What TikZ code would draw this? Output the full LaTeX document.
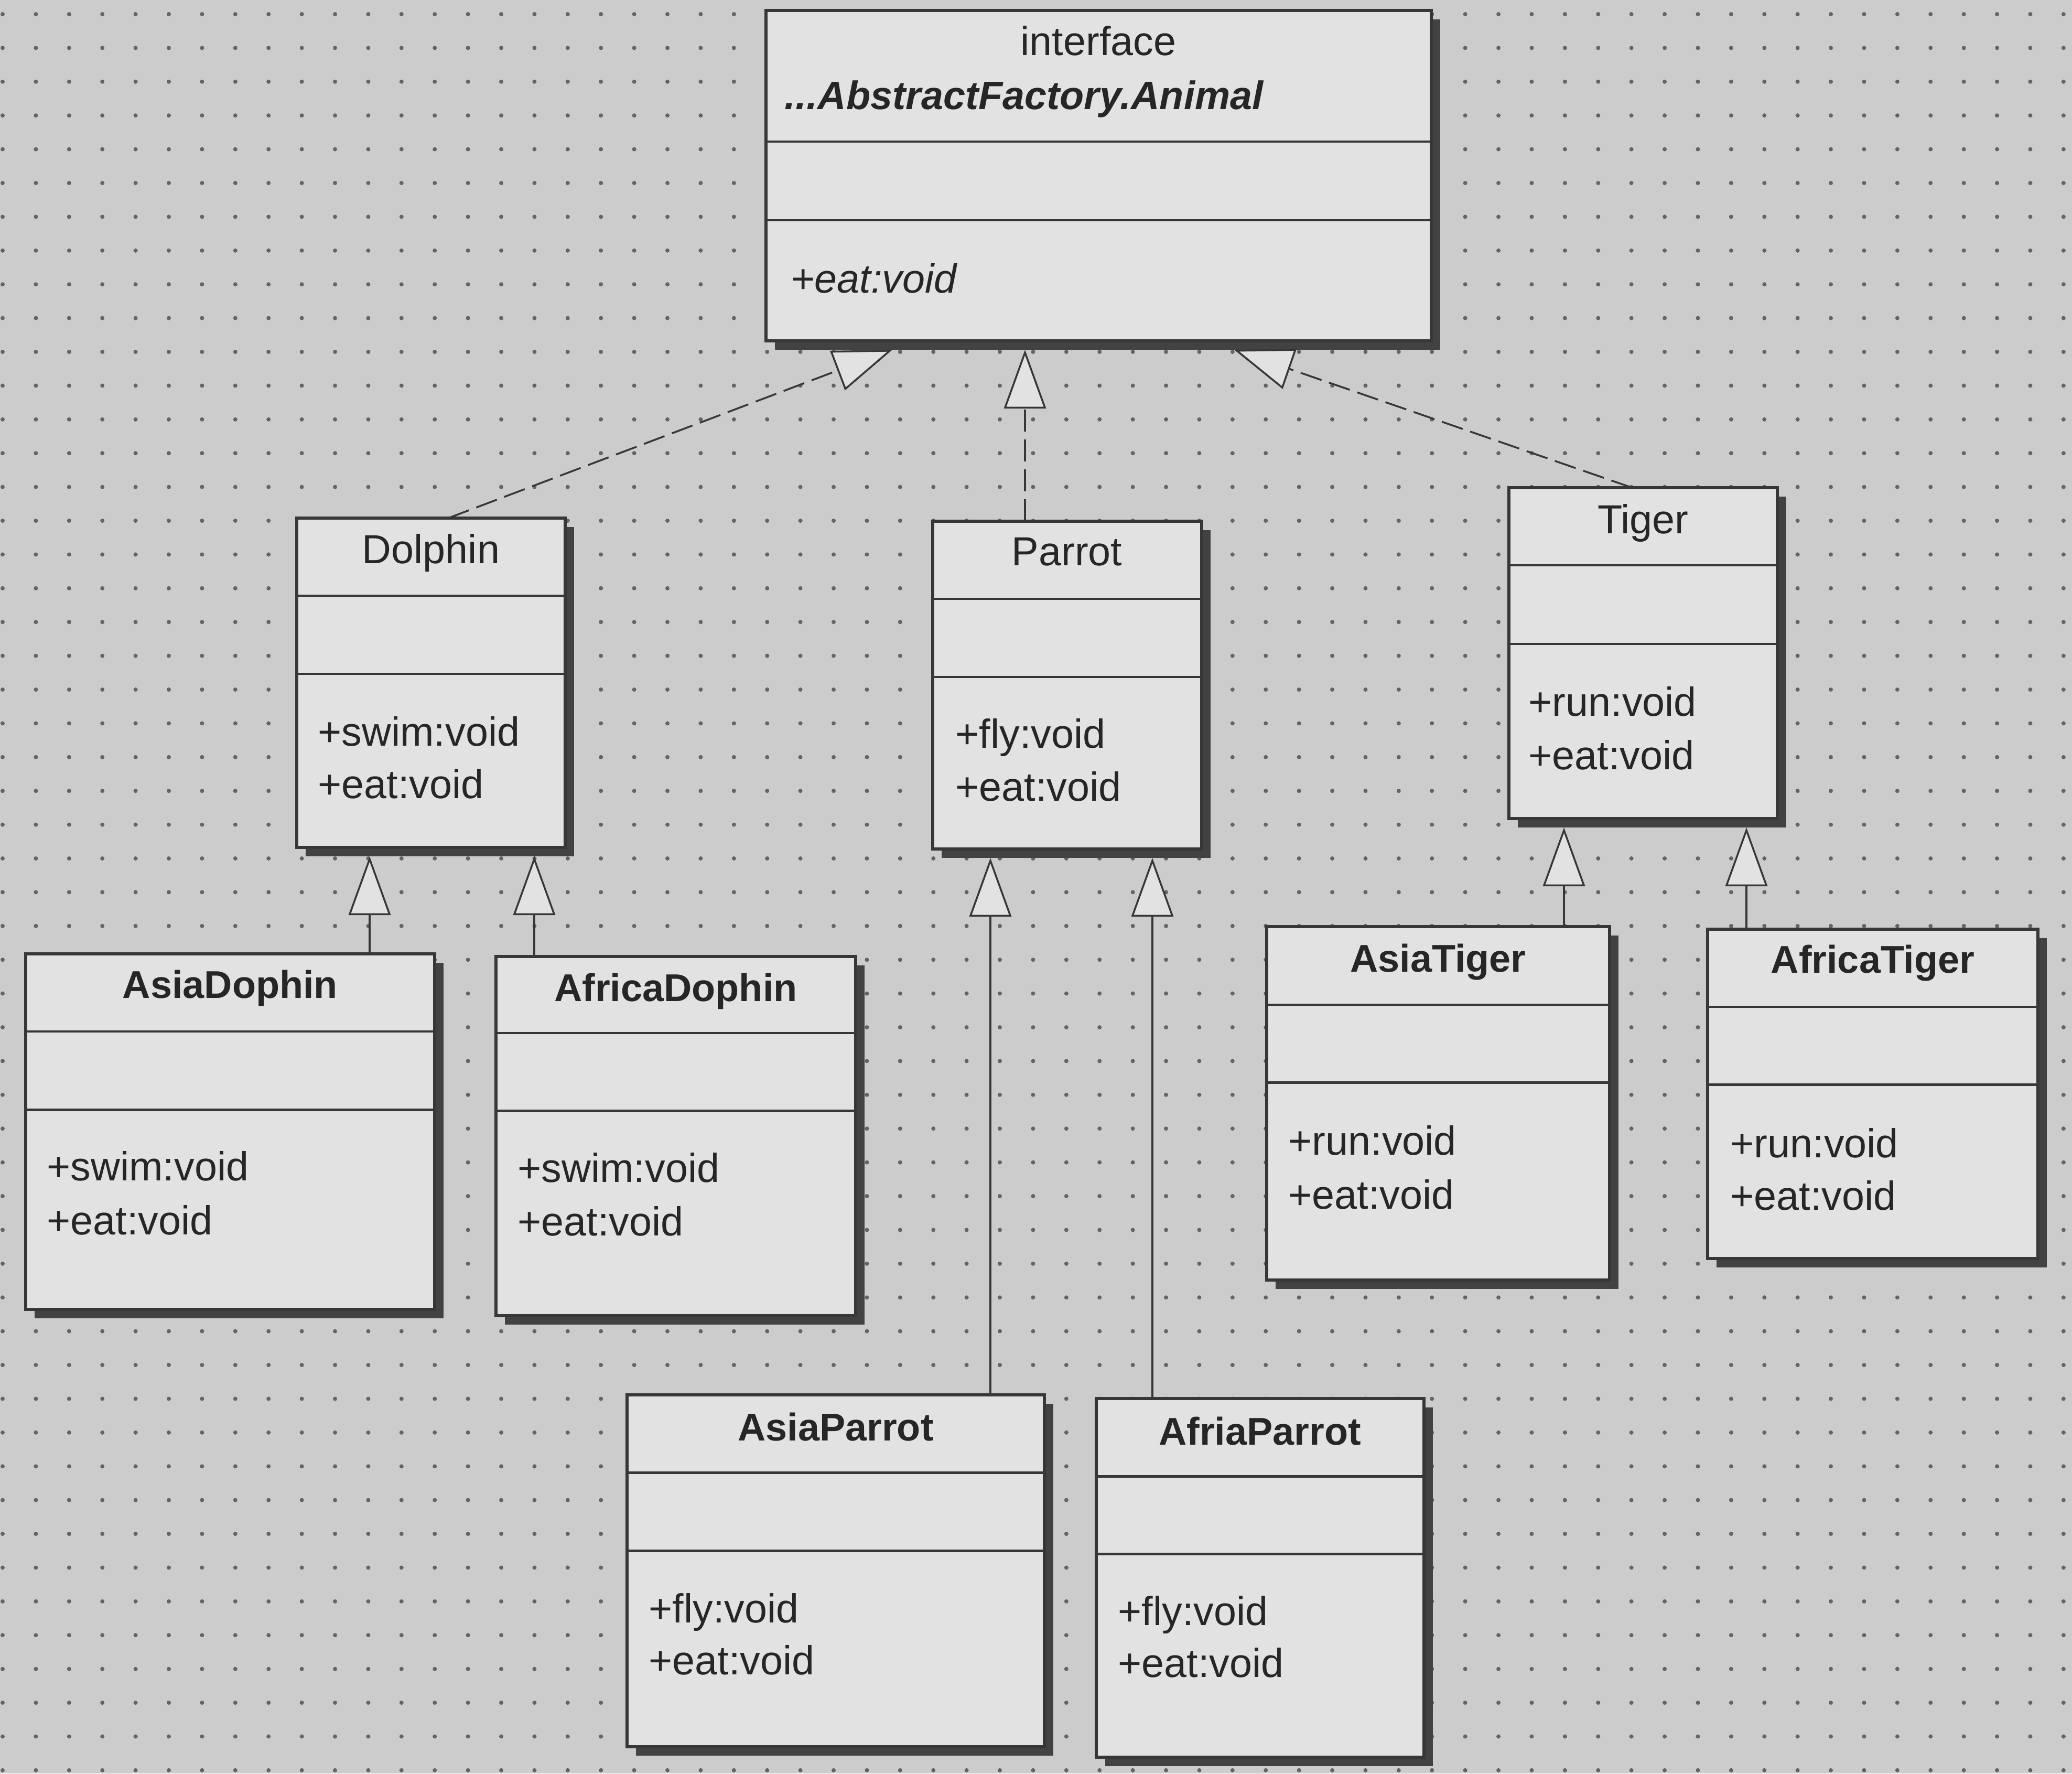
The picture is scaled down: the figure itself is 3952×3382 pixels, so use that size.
\documentclass[tikz,border=0pt]{standalone}
\usepackage{fontspec}
\setmainfont{Liberation Sans}
\usetikzlibrary{arrows.meta,fit}
\definecolor{bgc}{RGB}{204,204,204}
\definecolor{boxc}{RGB}{226,226,226}
\definecolor{linec}{RGB}{55,55,55}
\definecolor{shadowc}{RGB}{66,66,66}
\definecolor{dotc}{RGB}{100,100,100}
\definecolor{textc}{RGB}{38,38,38}
\tikzset{
  classbox/.style={draw=linec, line width=1.9pt, fill=boxc, inner sep=0pt, outer sep=0pt},
  shadowbox/.style={fill=shadowc, draw=none, inner sep=0pt, outer sep=0pt},
  divider/.style={draw=linec, line width=1.4pt},
  cname/.style={anchor=base, inner sep=0pt, text=textc, font=\fontsize{22pt}{26pt}\selectfont},
  cnamebold/.style={anchor=base, inner sep=0pt, text=textc, font=\fontsize{21pt}{26pt}\selectfont\bfseries},
  member/.style={anchor=base west, inner sep=0pt, text=textc, font=\fontsize{22pt}{26pt}\selectfont},
  realize/.style={draw=linec, line width=1pt, dash pattern=on 4.2mm off 1.5mm,
    -{Triangle[length=11.2mm, width=8mm, fill=boxc]}},
  inherit/.style={draw=linec, line width=1pt,
    -{Triangle[length=11.2mm, width=8mm, fill=boxc]}}
}
\newcommand\umlbox[7]{%
  \node[shadowbox, fit={(#2+17,#3+17) (#4+17,#5+17)}] (#1-sh) {};
  \node[classbox, fit={(#2,#3) (#4,#5)}] (#1) {};
  \draw[divider] (#2,#6) -- (#4,#6);
  \draw[divider] (#2,#7) -- (#4,#7);
}
\begin{document}
\begin{tikzpicture}[x=0.1mm, y=-0.1mm]
\useasboundingbox (0,0) rectangle (3952,3382);
\fill[bgc] (0,0) rectangle (3952,3382);
\foreach \i in {0,...,62}{\foreach \j in {0,...,52}{\fill[dotc] ({5+\i*63.4},{27+\j*64.4}) circle[radius=4];}}

% boxes
\umlbox{animal}{1461}{20}{2730}{650}{270}{420}
\umlbox{dolphin}{566}{988}{1078}{1616}{1136}{1285}
\umlbox{parrot}{1779}{994}{2292}{1619}{1142}{1291}
\umlbox{tiger}{2878}{930}{3390}{1561}{1078}{1228}
\umlbox{asiadophin}{49}{1819}{829}{2497}{1967}{2116}
\umlbox{africadophin}{946}{1824}{1632}{2509}{1970}{2118}
\umlbox{asiatiger}{2416}{1767}{3070}{2441}{1916}{2064}
\umlbox{africatiger}{3257}{1772}{3887}{2400}{1920}{2068}
\umlbox{asiaparrot}{1196}{2660}{1992}{3331}{2808}{2957}
\umlbox{afriaparrot}{2091}{2667}{2716}{3351}{2815}{2963}

% texts
\node[cname] (animal-st) at (2095,105) {interface};
\node[member, font=\fontsize{21.5pt}{26pt}\selectfont\bfseries\itshape] (animal-n) at (1496,208) {...AbstractFactory.Animal};
\node[member, font=\fontsize{22pt}{26pt}\selectfont\itshape] (animal-m1) at (1508,558) {+eat:void};

\node[cname] (dolphin-n) at (822,1074) {Dolphin};
\node[member] (dolphin-m1) at (606,1422) {+swim:void};
\node[member] (dolphin-m2) at (606,1522) {+eat:void};

\node[cname] (parrot-n) at (2035,1078) {Parrot};
\node[member] (parrot-m1) at (1822,1426) {+fly:void};
\node[member] (parrot-m2) at (1822,1527) {+eat:void};

\node[cname] (tiger-n) at (3134,1017) {Tiger};
\node[member] (tiger-m1) at (2915,1365) {+run:void};
\node[member] (tiger-m2) at (2915,1467) {+eat:void};

\node[cnamebold] (asiadophin-n) at (439,1903) {AsiaDophin};
\node[member] (asiadophin-m1) at (89,2251) {+swim:void};
\node[member] (asiadophin-m2) at (89,2354) {+eat:void};

\node[cnamebold] (africadophin-n) at (1289,1909) {AfricaDophin};
\node[member] (africadophin-m1) at (987,2254) {+swim:void};
\node[member] (africadophin-m2) at (987,2356) {+eat:void};

\node[cnamebold] (asiatiger-n) at (2743,1853) {AsiaTiger};
\node[member] (asiatiger-m1) at (2457,2202) {+run:void};
\node[member] (asiatiger-m2) at (2457,2305) {+eat:void};

\node[cnamebold] (africatiger-n) at (3572,1855) {AfricaTiger};
\node[member] (africatiger-m1) at (3300,2207) {+run:void};
\node[member] (africatiger-m2) at (3300,2307) {+eat:void};

\node[cnamebold] (asiaparrot-n) at (1594,2747) {AsiaParrot};
\node[member] (asiaparrot-m1) at (1237,3094) {+fly:void};
\node[member] (asiaparrot-m2) at (1237,3193) {+eat:void};

\node[cnamebold] (afriaparrot-n) at (2403,2755) {AfriaParrot};
\node[member] (afriaparrot-m1) at (2132,3099) {+fly:void};
\node[member] (afriaparrot-m2) at (2132,3198) {+eat:void};

% connectors
\draw[realize] (dolphin.north -| 855,0) -- (animal-sh.south -| 1702,0);
\draw[realize] (parrot.north -| 1955,0) -- (animal-sh.south -| 1955,0);
\draw[realize] (tiger.north -| 3113,0) -- (animal-sh.south -| 2354,0);

\draw[inherit] (asiadophin.north -| 705,0) -- (dolphin-sh.south -| 705,0);
\draw[inherit] (africadophin.north -| 1019,0) -- (dolphin-sh.south -| 1019,0);
\draw[inherit] (asiaparrot.north -| 1889,0) -- (parrot-sh.south -| 1889,0);
\draw[inherit] (afriaparrot.north -| 2198,0) -- (parrot-sh.south -| 2198,0);
\draw[inherit] (asiatiger.north -| 2983,0) -- (tiger-sh.south -| 2983,0);
\draw[inherit] (africatiger.north -| 3331,0) -- (tiger-sh.south -| 3331,0);
\end{tikzpicture}
\end{document}
